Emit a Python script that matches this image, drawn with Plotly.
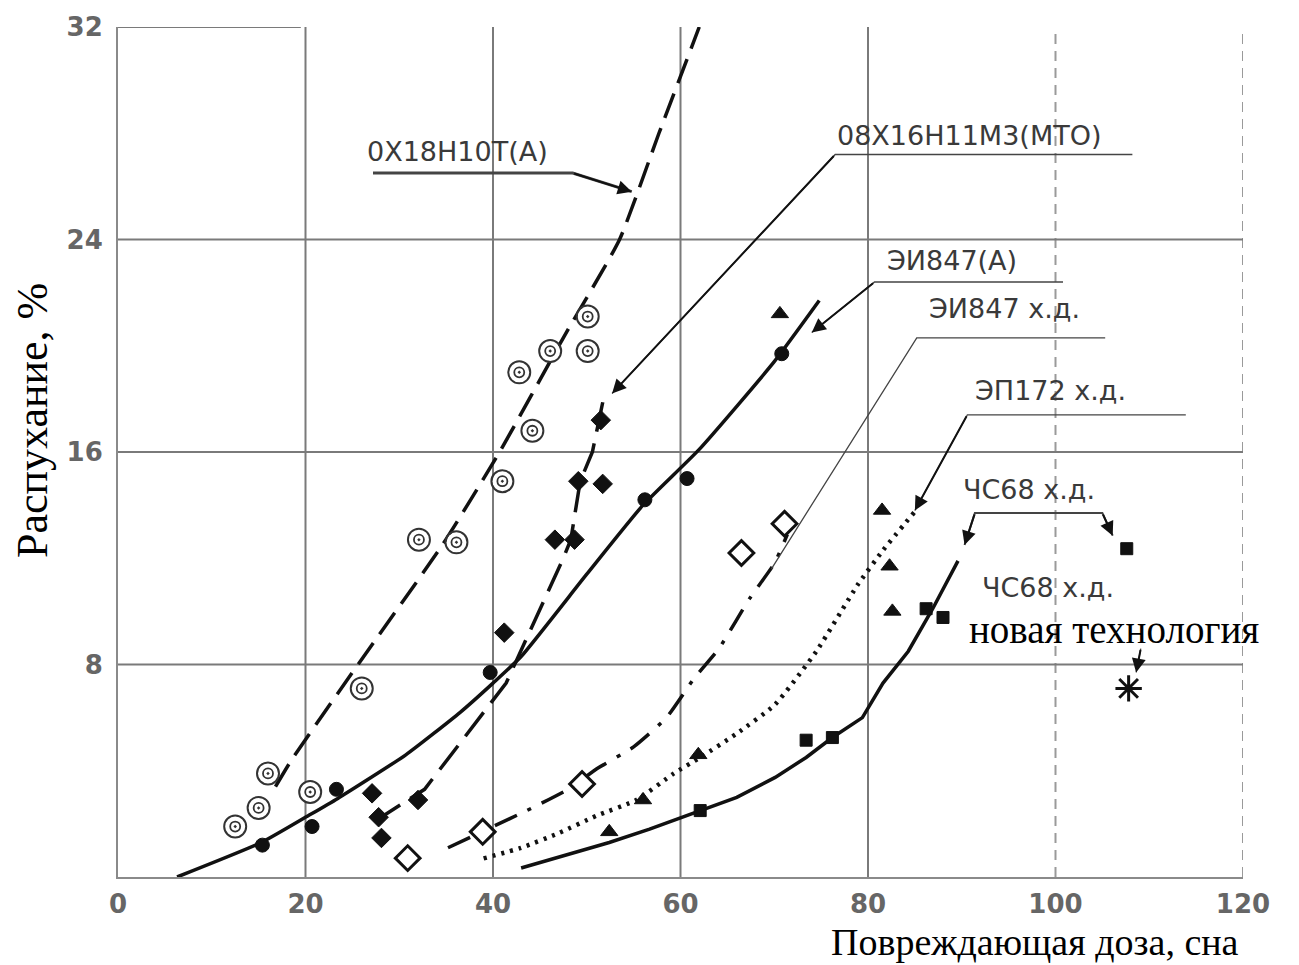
import plotly.graph_objects as go

# ---------------- data ----------------
# 0Х18Н10Т(А) : crossed circles + dashed fit
x_a = [12.5, 15.0, 16.0, 20.5, 26.0, 32.1, 36.1, 41.0, 44.2, 42.8, 46.1, 50.1, 50.1]
y_a = [1.9, 2.6, 3.9, 3.2, 7.1, 12.7, 12.6, 14.9, 16.8, 19.0, 19.8, 19.8, 21.1]
fx_a = [16.8, 18.5, 25.6, 34.6, 40.7, 47.5, 53.5, 57.7, 62.0]
fy_a = [3.4, 4.4, 8.0, 12.5, 16.0, 20.3, 24.0, 28.0, 32.0]

# 08Х16Н11М3(МТО) : filled diamonds + long dash
x_b = [27.1, 27.8, 28.1, 32.0, 41.2, 46.6, 48.7, 49.1, 51.7, 51.5]
y_b = [3.15, 2.25, 1.47, 2.9, 9.2, 12.7, 12.7, 14.9, 14.8, 17.2]
fx_b = [27.4, 32.7, 41.4, 47.5, 48.3, 49.3, 50.6, 51.9]
fy_b = [2.1, 3.3, 7.3, 12.0, 12.7, 14.9, 16.0, 18.2]

# ЭИ847(А) : filled circles (+ one triangle) + solid
x_c = [15.4, 20.7, 23.3, 39.7, 56.2, 60.7, 70.8]
y_c = [1.2, 1.9, 3.3, 7.7, 14.2, 15.0, 19.7]
x_c_tri = [70.6]
y_c_tri = [21.2]
fx_c = [6.3, 15.3, 20.5, 23.4, 30.7, 36.5, 40.0, 43.0, 50.0, 56.0, 62.0, 70.0, 74.8]
fy_c = [0.0, 1.3, 2.35, 2.95, 4.6, 6.2, 7.3, 8.3, 11.4, 14.0, 16.1, 19.4, 21.7]

# ЭИ847 х.д. : open diamonds + dash-dot
x_d = [30.9, 38.9, 49.5, 66.5, 71.1]
y_d = [0.71, 1.7, 3.5, 12.2, 13.3]
fx_d = [35.2, 40.0, 43.6, 48.0, 51.2, 55.0, 58.5, 61.5, 64.1, 67.4, 70.0, 71.4]
fy_d = [1.1, 1.9, 2.5, 3.3, 4.1, 4.9, 6.0, 7.5, 8.6, 10.5, 11.8, 12.9]

# ЭП172 х.д. : filled triangles + dotted
x_e = [52.4, 56.0, 61.9, 81.5, 82.3, 82.6]
y_e = [1.7, 2.9, 4.6, 13.8, 11.7, 10.0]
fx_e = [39.0, 43.0, 47.0, 51.0, 55.3, 59.3, 62.1, 66.0, 70.1, 74.5, 78.9, 81.6, 85.1]
fy_e = [0.7, 1.1, 1.65, 2.3, 2.9, 3.9, 4.5, 5.4, 6.5, 8.5, 11.0, 12.3, 13.8]

# ЧС68 х.д. : filled squares + solid
x_f = [62.1, 73.4, 76.2, 86.2, 88.0, 107.6]
y_f = [2.5, 5.15, 5.25, 10.1, 9.77, 12.36]
fx_f = [43.0, 52.4, 56.7, 62.1, 66.0, 70.1, 73.4, 76.2, 79.4, 81.6, 84.3, 86.9, 89.6]
fy_f = [0.34, 1.3, 1.8, 2.5, 3.0, 3.75, 4.5, 5.25, 6.0, 7.3, 8.5, 10.1, 11.9]

# ЧС68 х.д. новая технология
x_g = [107.8]
y_g = [7.1]

x_ticks = [0, 20, 40, 60, 80, 100, 120]
y_ticks = [8, 16, 24, 32]

labels = ["0Х18Н10Т(А)", "08Х16Н11М3(МТО)", "ЭИ847(А)", "ЭИ847 х.д.",
          "ЭП172 х.д.", "ЧС68 х.д.", "ЧС68 х.д."]

# ---------------- figure ----------------
fig = go.Figure()
BLK = "#111111"


def fit(x, y, dash, width=3.5, shape="spline"):
    fig.add_trace(go.Scatter(x=x, y=y, mode="lines", hoverinfo="skip",
                             line=dict(color=BLK, width=width, dash=dash,
                                       shape=shape, smoothing=0.5),
                             showlegend=False, cliponaxis=False))


def pts(x, y, symbol, size, lw=1, color=BLK):
    fig.add_trace(go.Scatter(x=x, y=y, mode="markers", showlegend=False,
                             cliponaxis=False,
                             marker=dict(symbol=symbol, size=size, color=color,
                                         line=dict(color=color, width=lw))))


# white halo below open markers so lines do not run through their interior
def halo(x, y, symbol, size):
    fig.add_trace(go.Scatter(x=x, y=y, mode="markers", showlegend=False,
                             hoverinfo="skip", cliponaxis=False,
                             marker=dict(symbol=symbol, size=size, color="white",
                                         line=dict(width=0))))


fit(fx_a, fy_a, "26px,11px")
fit(fx_b, fy_b, "30px,12px", shape="linear")
fit(fx_c, fy_c, "solid")
fit(fx_d, fy_d, "24px,12px,4px,12px")
fit(fx_e, fy_e, "3px,6px", width=4.5)
fit(fx_f, fy_f, "solid", shape="linear")

halo(x_a, y_a, "circle", 20)
pts(x_a, y_a, "circle-open", 22, lw=2, color="#333333")
pts(x_a, y_a, "circle-open-dot", 10, lw=1.8, color="#333333")
pts(x_b, y_b, "diamond", 15)
pts(x_c, y_c, "circle", 14)
pts(x_c_tri, y_c_tri, "triangle-up", 15)
halo(x_d, y_d, "diamond", 16)
pts(x_d, y_d, "diamond-open", 19, lw=3)
pts(x_e, y_e, "triangle-up", 15)
pts(x_f, y_f, "square", 12)
pts(x_g, y_g, "asterisk-open", 22, lw=3)

# grid drawn as shapes (scanned look)
GRID = "#7a7a7a"
shapes = []
for xv in [20, 40, 60, 80]:
    shapes.append(dict(type="line", xref="x", yref="y", x0=xv, x1=xv, y0=0, y1=32,
                       line=dict(color=GRID, width=2), layer="below"))
for xv in [100, 120]:
    shapes.append(dict(type="line", xref="x", yref="y", x0=xv, x1=xv, y0=0, y1=32.2,
                       line=dict(color="#9a9a9a", width=2, dash="10px,7px"), layer="below"))
for yv in [8, 16, 24]:
    shapes.append(dict(type="line", xref="x", yref="y", x0=0, x1=120.5, y0=yv, y1=yv,
                       line=dict(color=GRID, width=2), layer="below"))
shapes.append(dict(type="line", xref="x", yref="y", x0=0, x1=19.5, y0=32, y1=32,
                   line=dict(color=GRID, width=2), layer="below"))

# leader lines
LEAD = "#444444"
leaders = [
    ([27.2, 48.5, 54.8], [26.5, 26.5, 25.8], 3.0, True),
    ([108.2, 76.5, 52.7], [27.2, 27.2, 18.2], 1.3, True),
    ([100.8, 80.7, 74.0], [22.4, 22.4, 20.5], 1.5, True),
    ([105.3, 85.2, 69.7], [20.3, 20.3, 11.6], 1.3, False),
    ([113.9, 90.6, 85.0], [17.4, 17.4, 13.8], 1.3, True),
    ([106.1, 105.0, 91.4, 90.3], [12.85, 13.7, 13.7, 12.5], 2.0, True),
    ([109.1, 108.6], [8.6, 7.7], 1.3, True),
]
annotations = []
for lx, ly, w, arrow in leaders:
    fig.add_trace(go.Scatter(x=lx, y=ly, mode="lines", hoverinfo="skip", showlegend=False,
                             cliponaxis=False, line=dict(color=LEAD, width=w)))
    if arrow:
        annotations.append(dict(x=lx[-1], y=ly[-1], ax=lx[-2], ay=ly[-2], xref="x", yref="y",
                                axref="x", ayref="y", text="", showarrow=True,
                                arrowhead=2, arrowsize=1.4, arrowwidth=2, arrowcolor=BLK))
# second arrow of the ЧС68 bracket
annotations.append(dict(x=106.1, y=12.85, ax=105.0, ay=13.7, xref="x", yref="y",
                        axref="x", ayref="y", text="", showarrow=True,
                        arrowhead=2, arrowsize=1.4, arrowwidth=2, arrowcolor=BLK))

LABFONT = dict(family="DejaVu Sans", size=27, color="#3a3a3a")
label_pos = [(26.3, 27.3), (76.5, 27.9), (81.8, 23.2), (86.3, 21.4),
             (91.2, 18.3), (89.9, 14.6), (91.9, 10.9)]
for txt, (lx, ly) in zip(labels, label_pos):
    annotations.append(dict(x=lx, y=ly, xref="x", yref="y", text=txt, showarrow=False,
                            xanchor="left", yanchor="middle", font=LABFONT))
annotations.append(dict(x=90.6, y=9.3, xref="x", yref="y", text="новая технология",
                        showarrow=False, xanchor="left", yanchor="middle",
                        font=dict(family="Liberation Serif", size=39, color="black")))

# axis titles
annotations.append(dict(x=-0.076, y=0.537, xref="paper", yref="paper",
                        text="Распухание, %", textangle=-90, showarrow=False,
                        xanchor="center", yanchor="middle",
                        font=dict(family="Liberation Serif", size=44, color="black")))
annotations.append(dict(x=0.998, y=-0.0765, xref="paper", yref="paper",
                        text="Повреждающая доза, сна", showarrow=False,
                        xanchor="right", yanchor="middle",
                        font=dict(family="Liberation Serif", size=38, color="black")))

TICKFONT = dict(family="DejaVu Sans", size=26, color="#666666", weight="bold")
fig.update_layout(
    width=1299, height=965,
    margin=dict(l=118, r=56, t=25, b=88),
    paper_bgcolor="white", plot_bgcolor="white",
    shapes=shapes, annotations=annotations,
    xaxis=dict(range=[0, 120], tickvals=x_ticks, ticktext=[str(v) for v in x_ticks],
               showgrid=False, zeroline=False, showline=True, linecolor="#8a8a8a",
               linewidth=2, ticks="", tickfont=TICKFONT, ticklabelstandoff=3),
    yaxis=dict(range=[0, 32], tickvals=y_ticks, ticktext=[str(v) for v in y_ticks],
               showgrid=False, zeroline=False, showline=True, linecolor="#8a8a8a",
               linewidth=2, ticks="", tickfont=TICKFONT, ticklabelstandoff=8),
)

fig.write_html("out.html")
